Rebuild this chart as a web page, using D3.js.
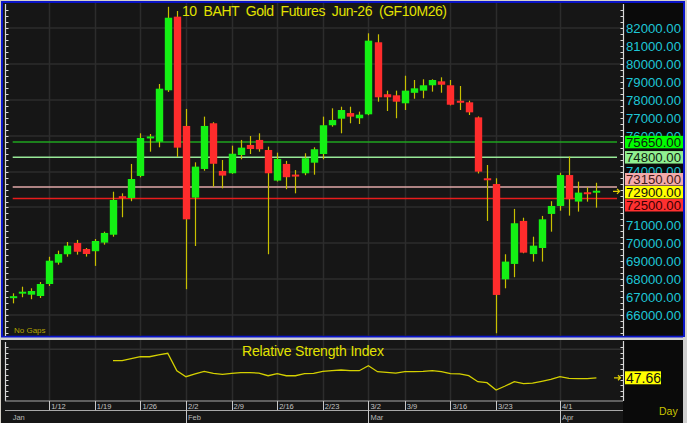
<!DOCTYPE html>
<html><head><meta charset="utf-8">
<script src="https://cdn.jsdelivr.net/npm/d3@7"></script>
<style>html,body{margin:0;padding:0;background:#d4d0c8;overflow:hidden}svg{display:block;font-family:Arial,"Liberation Sans",sans-serif}</style>
</head><body><svg id="c" width="687" height="423"></svg>
<script>
// ---------- DATA ----------
const dates = ["1/6","1/7","1/8","1/9","1/12","1/13","1/14","1/15","1/16","1/19","1/20","1/21","1/22","1/23","1/26","1/27","1/28","1/29","1/30",
"2/2","2/3","2/4","2/5","2/6","2/9","2/10","2/11","2/12","2/13","2/16","2/17","2/18","2/19","2/20","2/23","2/24","2/25","2/26","2/27",
"3/2","3/4","3/5","3/6","3/9","3/10","3/11","3/12","3/13","3/16","3/17","3/18","3/19","3/20","3/23","3/24","3/25","3/26","3/27","3/30","3/31",
"4/1","4/2","4/3","4/6","4/7"];
const open  = [66980,67210,67135,67060,67730,68920,69390,70020,69685,69560,70040,70480,72600,72530,73760,75870,75670,78540,82650,76550,72550,74150,76700,74040,73910,74930,75490,75770,75210,73500,74430,73800,73910,74500,74985,76590,76955,77270,76980,77200,81220,78320,78260,77815,78400,78520,78820,79040,78820,77920,77870,77030,73600,73310,67990,68850,71250,69400,69740,71640,72085,73810,72330,72820,72860];
const high  = [67210,67580,67490,67840,69250,69590,70075,70190,69740,70240,70650,72880,72790,74430,76140,76100,78890,83200,82965,77500,74520,77070,76760,74650,75450,75770,75990,76140,75395,75060,74600,74090,75025,75360,77070,77535,77625,77625,77350,81720,81665,78520,78520,79355,79115,79155,79155,79265,79115,78780,77960,77080,74370,73630,69390,71920,71430,70370,71530,72350,73940,74840,73440,73125,73380];
const low   = [66650,66990,66880,66950,67620,68810,69255,69370,69260,68740,69925,70370,71455,72350,73685,75115,75360,78450,74820,67440,69850,74050,73160,73070,73880,74690,74985,75115,69390,73450,73020,72790,73800,73830,74690,76510,76140,76700,76660,77150,77905,77385,76980,77440,78070,78095,78465,78405,77700,77440,77160,73900,71250,64980,67490,68110,69445,68980,68980,70650,71820,71545,71770,72325,71990];
const close = [67010,67280,67340,67730,69030,69400,69870,69530,69405,70130,70580,72420,72550,73590,75880,75950,78630,82590,75340,71340,74280,76550,74440,73780,75000,75340,75265,75250,73910,74710,73690,73760,74750,75250,76590,76880,77440,77070,77180,81310,78150,78150,77905,78520,78650,78820,79115,78850,77735,77880,77310,74000,73550,67120,68980,71120,69480,69870,71340,72085,73810,72460,72830,72770,72900];
const rsi = [null,null,null,null,null,null,null,null,null,null,null,
72.9,72.9,75.9,78.8,78.8,81.4,83.9,58.1,49.3,53.3,57.2,54.3,52.8,54.3,55.2,55.2,54.7,50.7,53.7,50.7,50.7,53.7,54.3,57.2,58.1,59.2,58.1,58.1,
65.5,56.7,55.8,54.7,56.7,56.7,57.2,58.1,56.7,53.7,53.3,50.7,41.9,40.4,29.6,35.5,41.9,38.9,39.9,42.5,45.4,49.3,46.9,46.3,46.3,47.66];
const priceTicks = [66000,67000,68000,69000,70000,71000,72000,73000,74000,75000,76000,77000,78000,79000,80000,81000,82000];
const dateTicks = ["1/12","1/19","1/26","2/2","2/9","2/16","2/23","3/2","3/9","3/16","3/23","4/1"];
const months = ["Jan","Feb","Mar","Apr"];
const levelValues = [75650, 74800, 73150, 72500];
const lastPrice = 72900;
const lastRsi = 47.66;
const title = "10  BAHT  Gold  Futures  Jun-26  (GF10M26)";
const rsiTitle = "Relative Strength Index";

// ---------- STYLES ----------
const levelStyles = [
  {line:"#1fa51f", bg:"#00ff00", fg:"#102010"},
  {line:"#98e898", bg:"#90f090", fg:"#102010"},
  {line:"#e0a8a8", bg:"#f4aaaa", fg:"#401818"},
  {line:"#e81c1c", bg:"#ff3030", fg:"#3a0000"}
];
const GREEN="#14f014", RED="#ff2c2c", WICK="#c8c000", YEL="#e2e200", CYAN="#1ec6d6";

const svg = d3.select("#c");
const W=687, H=423;
const N = dates.length;
const x = d3.scaleLinear().domain([0, N-1]).range([12.7, 596.4]);
const y = d3.scaleLinear().domain([66000, 82000]).range([315, 28.3]);
const ry = d3.scaleLinear().domain([0, 100]).range([410, 342.4]);
const px = v => Math.round(v) + 0.5;

// backgrounds
svg.append("rect").attr("width",W).attr("height",H).attr("fill","#d4d0c8");
svg.append("rect").attr("x",3).attr("y",3).attr("width",620).attr("height",333).attr("fill","#161616");
svg.append("rect").attr("x",623).attr("y",3).attr("width",60).attr("height",333).attr("fill","#0a0a0a");
svg.append("rect").attr("x",2).attr("y",2).attr("width",682).attr("height",334.7).attr("fill","none").attr("stroke","#0a14c8").attr("stroke-width",2);
svg.append("rect").attr("x",1).attr("y",340).attr("width",622).attr("height",83).attr("fill","#161616");
svg.append("rect").attr("x",623).attr("y",340).attr("width",60).attr("height",83).attr("fill","#0a0a0a");

// ---------- MAIN GRID ----------
const gridC = "#2c2c2c";
const tickIdx = dateTicks.map(d => dates.indexOf(d));
const g = svg.append("g");
g.selectAll(".hg").data(priceTicks.filter(v => v % 2000 === 0)).join("line")
  .attr("x1",6).attr("x2",623).attr("y1",d=>px(y(d))-0.5).attr("y2",d=>px(y(d))-0.5)
  .attr("stroke",gridC).attr("stroke-width",1.5);
g.selectAll(".vg").data(tickIdx).join("line")
  .attr("x1",d=>px(x(d))).attr("x2",d=>px(x(d))).attr("y1",3).attr("y2",336)
  .attr("stroke",gridC).attr("stroke-width",1.5);

// axes lines + minor ticks (main)
const minor = d3.range(-6, 55).map(k => 66000 + k*1000/3).filter(v => y(v) > 5 && y(v) < 334);
function vAxis(xx, yy0, yy1, tvals, scale, side){
  svg.append("line").attr("x1",xx).attr("x2",xx).attr("y1",yy0).attr("y2",yy1).attr("stroke","#d8d8d8").attr("stroke-width",1.2);
  svg.selectAll(null).data(tvals).join("line")
    .attr("x1",xx).attr("x2",(d,i)=> xx + side*3)
    .attr("y1",d=>px(scale(d))).attr("y2",d=>px(scale(d)))
    .attr("stroke","#d8d8d8").attr("stroke-width",1);
}
vAxis(5.5, 4, 336, minor, y, 1);
vAxis(623.5, 4, 336, minor, y, -1);

// ---------- RIGHT LABEL POSITIONS ----------
const lbls = levelValues.map((v,i)=>({v, s:levelStyles[i]}));
lbls.push({v:lastPrice, s:{bg:"#ffff00", fg:"#111"}});
lbls.sort((a,b)=>b.v-a.v);
const LH = 12.5;
lbls.forEach(l => l.c = y(l.v));
for (let it=0; it<50; it++){
  for (let k=1;k<lbls.length;k++){
    const d = lbls[k].c - lbls[k-1].c;
    if (d < LH+0.5){ const m=(LH+0.5-d)/2; lbls[k].c += m; lbls[k-1].c -= m; }
  }
}

// price labels (those fully hidden behind a highlight box are skipped)
const visibleTicks = priceTicks.filter(v => !lbls.some(l => Math.abs(l.c - y(v)) < 4.5));
svg.selectAll(".pl").data(visibleTicks).join("text")
  .attr("x",626).attr("y",d=>y(d)+4.8).attr("fill",CYAN).attr("font-size",13.2).text(d=>d3.format(".2f")(d));

// level lines
levelValues.forEach((v,i)=>{
  svg.append("line").attr("x1",x(0)).attr("x2",617).attr("y1",y(v)).attr("y2",y(v))
    .attr("stroke",levelStyles[i].line).attr("stroke-width",1.5);
});

// ---------- CANDLES ----------
const idx = d3.range(N);
svg.selectAll(".wick").data(idx).join("line")
  .attr("x1",i=>px(x(i))).attr("x2",i=>px(x(i)))
  .attr("y1",i=>y(high[i])).attr("y2",i=>y(low[i]))
  .attr("stroke",WICK).attr("stroke-width",1.2);
svg.selectAll(".body").data(idx).join("rect")
  .attr("x",i=>Math.round(x(i))-3.2).attr("width",7.4)
  .attr("y",i=>{const a=y(open[i]), b=y(close[i]); return Math.abs(a-b)<2 ? (a+b)/2-1 : Math.min(a,b);})
  .attr("height",i=>Math.max(2, Math.abs(y(open[i])-y(close[i]))))
  .attr("fill",i=> close[i]>=open[i] ? GREEN : RED);

// highlight labels
const lg = svg.selectAll(".lg").data(lbls).join("g");
lg.append("rect").attr("x",625).attr("y",d=>d.c-LH/2).attr("width",58).attr("height",LH).attr("fill",d=>d.s.bg);
lg.append("text").attr("x",626).attr("y",d=>d.c+4.8).attr("fill",d=>d.s.fg).attr("font-size",13.2).text(d=>d3.format(".2f")(d.v));

// arrows
function arrow(xx, yy){
  svg.append("path").attr("d",`M${xx-5},${yy}H${xx+1}M${xx-1},${yy-2.5}L${xx+1.5},${yy}L${xx-1},${yy+2.5}`)
    .attr("stroke","#e0d000").attr("stroke-width",1.3).attr("fill","none");
}
arrow(618, y(lastPrice));

// title + no gaps
svg.append("text").attr("x",182).attr("y",15.5).attr("fill",YEL).attr("font-size",14)
  .attr("textLength",265).attr("lengthAdjust","spacing").style("white-space","pre").text(title);
svg.append("text").attr("x",14).attr("y",333).attr("fill","#b4a400").attr("font-size",8).text("No Gaps");

// ---------- RSI PANEL ----------
svg.append("rect").attr("x",0).attr("y",337.7).attr("width",W).attr("height",2.3).attr("fill","#cfcfcf");
svg.selectAll(".rvg").data(tickIdx).join("line")
  .attr("x1",d=>px(x(d))).attr("x2",d=>px(x(d))).attr("y1",340).attr("y2",401)
  .attr("stroke",gridC).attr("stroke-width",1.5);
svg.append("line").attr("x1",6).attr("x2",623).attr("y1",ry(90)).attr("y2",ry(90)).attr("stroke","#303030").attr("stroke-width",1.5);
const rMinor = d3.range(12, 100, 8.1).filter(v => ry(v) > 342 && ry(v) < 400);
vAxis(5.5, 342, 401, rMinor, ry, 1);
vAxis(623.5, 341, 401, rMinor, ry, -1);

svg.append("text").attr("x",242).attr("y",355.5).attr("fill",YEL).attr("font-size",14)
  .attr("textLength",142).attr("lengthAdjust","spacing").text(rsiTitle);

const line = d3.line().defined(d=>d!=null).x((d,i)=>x(i)).y(d=>ry(d));
svg.append("path").datum(rsi).attr("d",line).attr("fill","none").attr("stroke","#d4d000").attr("stroke-width",1.3);

svg.append("rect").attr("x",625).attr("y",ry(lastRsi)-6.5).attr("width",36).attr("height",13).attr("fill","#ffff00");
svg.append("text").attr("x",626).attr("y",ry(lastRsi)+5).attr("fill","#111").attr("font-size",14).text(d3.format(".2f")(lastRsi));
arrow(619, ry(lastRsi));

// date axis rows
svg.append("line").attr("x1",5).attr("x2",623).attr("y1",401).attr("y2",401).attr("stroke","#a8a8a8").attr("stroke-width",1.2);
svg.append("line").attr("x1",5).attr("x2",623).attr("y1",410.5).attr("y2",410.5).attr("stroke","#a8a8a8").attr("stroke-width",1);
svg.selectAll(".dt").data(tickIdx).join("line")
  .attr("x1",d=>px(x(d))).attr("x2",d=>px(x(d))).attr("y1",401).attr("y2",410)
  .attr("stroke","#c8c8c8");
svg.selectAll(".dl").data(dateTicks).join("text")
  .attr("x",d=>x(dates.indexOf(d))+2).attr("y",409.3).attr("fill","#c4c4c4").attr("font-size",7.5).text(d=>d);
const monthIdx = months.map((m,k)=> dates.findIndex(d => +d.split("/")[0] === k+1));
svg.selectAll(".ms").data(monthIdx.slice(1)).join("line")
  .attr("x1",d=>px(x(d))).attr("x2",d=>px(x(d))).attr("y1",401).attr("y2",423)
  .attr("stroke","#c8c8c8");
svg.selectAll(".ml").data(months).join("text")
  .attr("x",(d,k)=> k===0 ? x(monthIdx[0]) : x(monthIdx[k])+2).attr("y",419.5)
  .attr("fill","#b8b8b8").attr("font-size",7.5).text(d=>d);

svg.append("text").attr("x",659).attr("y",415).attr("fill","#c8c400").attr("font-size",10.5).text("Day");
svg.append("rect").attr("x",683).attr("y",337).attr("width",4).attr("height",86).attr("fill","#cfcfcf");
</script></body></html>
